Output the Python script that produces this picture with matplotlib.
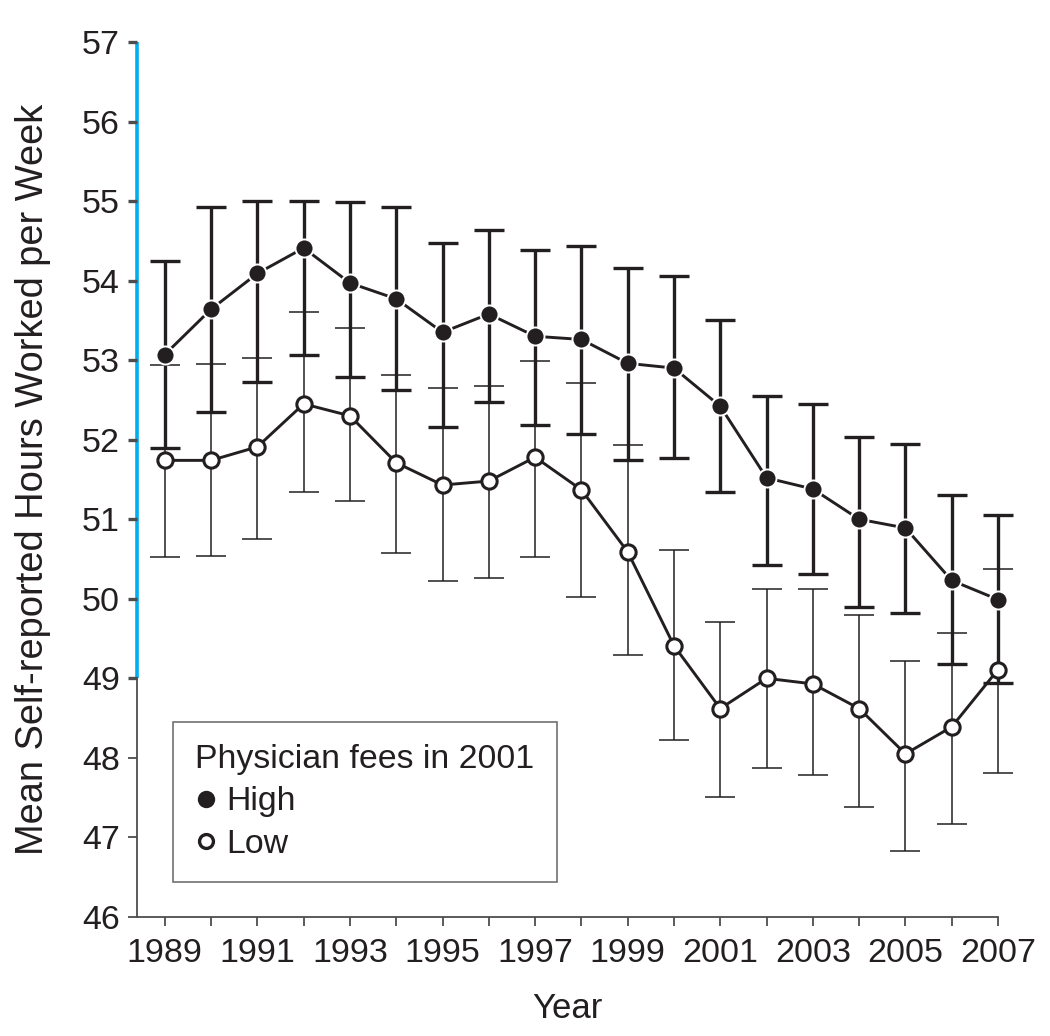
import matplotlib
matplotlib.use("Agg")
import matplotlib.pyplot as plt
from matplotlib.lines import Line2D

plt.rcParams["font.family"] = ["Liberation Sans", "DejaVu Sans"]

INK = "#231f20"
CYAN = "#00aeef"

years = list(range(1989, 2008))

high = [53.07, 53.64, 54.09, 54.41, 53.97, 53.77, 53.35, 53.58, 53.30, 53.26,
        52.96, 52.90, 52.42, 51.52, 51.38, 51.00, 50.89, 50.23, 49.99]
high_top = [54.25, 54.92, 55.00, 55.00, 54.99, 54.92, 54.47, 54.64, 54.39, 54.43,
            54.16, 54.06, 53.51, 52.55, 52.45, 52.03, 51.94, 51.31, 51.05]
high_bot = [51.89, 52.35, 52.73, 53.06, 52.79, 52.63, 52.16, 52.48, 52.19, 52.07,
            51.74, 51.77, 51.34, 50.43, 50.31, 49.90, 49.82, 49.18, 48.94]

low = [51.74, 51.74, 51.91, 52.45, 52.30, 51.71, 51.43, 51.48, 51.78, 51.37,
       50.59, 49.41, 48.62, 49.00, 48.93, 48.62, 48.05, 48.39, 49.11]
low_top = [52.94, 52.95, 53.03, 53.61, 53.40, 52.81, 52.65, 52.68, 52.99, 52.71,
           51.93, 50.61, 49.71, 50.12, 50.12, 49.80, 49.22, 49.57, 50.37]
low_bot = [50.52, 50.54, 50.75, 51.34, 51.23, 50.58, 50.22, 50.26, 50.53, 50.02,
           49.29, 48.23, 47.51, 47.87, 47.78, 47.38, 46.83, 47.17, 47.81]

yticks = list(range(46, 58))
xlabels = [str(y) if y % 2 == 1 else "" for y in years]

fig = plt.figure(figsize=(10.5, 10.36), dpi=100)
ax = fig.add_axes([0.1305, 0.1149, 0.82, 0.8446])

# error bars first, then lines and markers on top
low_err = [[v - b for v, b in zip(low, low_bot)], [t - v for v, t in zip(low, low_top)]]
high_err = [[v - b for v, b in zip(high, high_bot)], [t - v for v, t in zip(high, high_top)]]
ax.errorbar(years, low, yerr=low_err, fmt="none", ecolor=INK, elinewidth=1.1,
            capsize=11, capthick=1.1, zorder=2, clip_on=False)
ax.errorbar(years, high, yerr=high_err, fmt="none", ecolor=INK, elinewidth=2.4,
            capsize=11, capthick=2.4, zorder=3, clip_on=False)

ax.plot(years, high, color=INK, lw=2.1, marker="o", ms=13, mfc=INK, mec="white",
        mew=1.4, zorder=4, clip_on=False)
ax.plot(years, low, color=INK, lw=2.1, marker="o", ms=11, mfc="white", mec=INK,
        mew=2.2, zorder=5, clip_on=False)

ax.set_xlim(1988.4, 2007)
ax.set_ylim(46, 57)
ax.set_xticks(years)
ax.set_xticklabels(xlabels)
ax.set_yticks(yticks)

for s in ["top", "right"]:
    ax.spines[s].set_visible(False)
ax.spines["left"].set_bounds(46, 49)
ax.spines["left"].set_color("#4d4d4f")
ax.spines["left"].set_linewidth(1.3)
ax.spines["bottom"].set_color("#4d4d4f")
ax.spines["bottom"].set_linewidth(1.3)
# cyan upper part of the y axis
ax.plot([0, 0], [49, 57], color=CYAN, lw=2.6, transform=ax.get_yaxis_transform(),
        clip_on=False, zorder=1, solid_capstyle="butt")

ax.tick_params(axis="both", direction="out", length=6.5, width=1.3, colors="#4d4d4f",
               labelcolor=INK, labelsize=24.5)
ax.tick_params(axis="y", pad=6)
ax.tick_params(axis="x", pad=9)
for t, v in zip(ax.yaxis.get_major_ticks(), yticks):
    if v >= 49:
        t.tick1line.set_color(CYAN)
        t.tick1line.set_markeredgewidth(2.4)

ax.set_xlabel("Year", fontsize=25, color=INK, labelpad=16)
ax.set_ylabel("Mean Self-reported Hours Worked per Week", fontsize=27.4, color=INK, labelpad=22)

handles = [
    Line2D([], [], ls="none", marker="o", ms=11, mfc=INK, mec=INK, mew=1.5),
    Line2D([], [], ls="none", marker="o", ms=10, mfc="white", mec=INK, mew=2.4),
]
leg = ax.legend(handles, ["High", "Low"], title="Physician fees in 2001",
                loc="lower left", bbox_to_anchor=(0.0418, 0.04), borderaxespad=0,
                fontsize=24.4, title_fontsize=24.4, alignment="left", frameon=True,
                fancybox=False, borderpad=0.66, labelspacing=0.33, handlelength=0.6,
                handletextpad=0.3)
leg.get_frame().set_edgecolor("#4d4d4f")
leg.get_frame().set_linewidth(1.2)
leg.get_title().set_color(INK)
for txt in leg.get_texts():
    txt.set_color(INK)

fig.savefig("out.png", dpi=100, facecolor="white")
